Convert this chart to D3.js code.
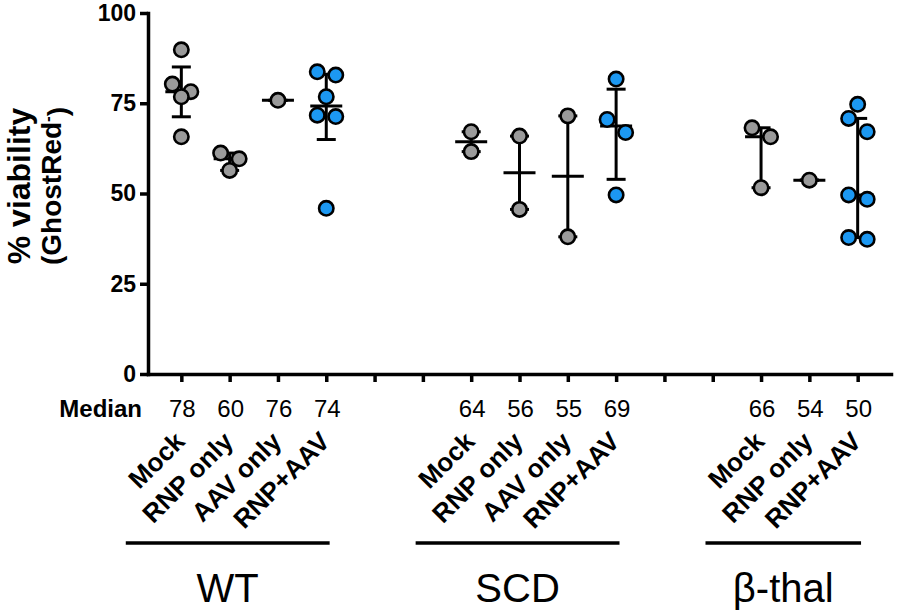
<!DOCTYPE html>
<html>
<head>
<meta charset="utf-8">
<script src="https://cdn.jsdelivr.net/npm/d3@7"></script>
<style>
    body { margin: 0; background: #fff; }
    text { font-family: "Liberation Sans", Arial, Helvetica, sans-serif; }
</style>
</head>
<body>
<div id="chart"></div>
<script>
// slots on the x axis, gaps are empty spacer positions between groups
const slots = [
    "WT|Mock", "WT|RNP only", "WT|AAV only", "WT|RNP+AAV", "gap1", "gap2",
    "SCD|Mock", "SCD|RNP only", "SCD|AAV only", "SCD|RNP+AAV", "gap3", "gap4",
    "β-thal|Mock", "β-thal|RNP only", "β-thal|RNP+AAV"
];
const groups = ["WT", "SCD", "β-thal"];

// % viability per sample
const wtMock = [89.8, 80.3, 78.2, 76.8, 65.7];
const wtRnp = [61.2, 59.6, 56.4];
const wtAav = [75.8];
const wtRnpAav = [83.7, 82.8, 76.8, 71.7, 71.3, 45.9];
const scdMock = [67.1, 61.6];
const scdRnp = [65.9, 45.6];
const scdAav = [71.5, 38.0];
const scdRnpAav = [81.7, 70.5, 66.9, 49.6];
const btMock = [68.2, 65.7, 51.6];
const btRnp = [53.7];
const btRnpAav = [74.7, 70.8, 67.1, 49.6, 48.4, 37.8, 37.3];

const medianLabels = ["78", "60", "76", "74", "64", "56", "55", "69", "66", "54", "50"];
const yTicks = [0, 25, 50, 75, 100];

const series = [
    { key: "WT|Mock", values: wtMock },
    { key: "WT|RNP only", values: wtRnp },
    { key: "WT|AAV only", values: wtAav },
    { key: "WT|RNP+AAV", values: wtRnpAav },
    { key: "SCD|Mock", values: scdMock },
    { key: "SCD|RNP only", values: scdRnp },
    { key: "SCD|AAV only", values: scdAav },
    { key: "SCD|RNP+AAV", values: scdRnpAav },
    { key: "β-thal|Mock", values: btMock },
    { key: "β-thal|RNP only", values: btRnp },
    { key: "β-thal|RNP+AAV", values: btRnpAav }
];

const width = 898, height = 612;
const r = 7.2;

const svg = d3.select("#chart").append("svg")
    .attr("width", width)
    .attr("height", height);

svg.append("rect").attr("width", width).attr("height", height).attr("fill", "#fff");

const x = d3.scalePoint().domain(slots).range([148, 891]).padding(0.69);
const y = d3.scaleLinear().domain([0, 100]).range([374, 13]);

// graphpad style percentile
function percentile(sorted, p) {
    const n = sorted.length;
    let pos = p * (n + 1);
    pos = Math.max(1, Math.min(n, pos));
    const lo = Math.floor(pos), frac = pos - lo;
    if (lo >= n) return sorted[n - 1];
    return sorted[lo - 1] + frac * (sorted[lo] - sorted[lo - 1]);
}

// put close points side by side, two per row
function dodge(values) {
    const sorted = values.slice().sort((a, b) => b - a);
    const out = [];
    let row = [];
    sorted.forEach(v => {
        if (row.length === 1 && Math.abs(y(v) - y(row[0])) < 14) {
            row.push(v);
            out.push({ v: row[0], dx: -9 }, { v: v, dx: 9.5 });
            row = [];
        } else {
            if (row.length === 1) out.push({ v: row[0], dx: 0 });
            row = [v];
        }
    });
    if (row.length === 1) out.push({ v: row[0], dx: 0 });
    return out;
}

// axes
const yAxis = svg.append("g")
    .attr("transform", "translate(148,0)")
    .call(d3.axisLeft(y).tickValues(yTicks).tickSize(8).tickSizeOuter(0).tickPadding(4));

const xAxis = svg.append("g")
    .attr("transform", "translate(0,374)")
    .call(d3.axisBottom(x).tickSize(8).tickSizeOuter(0).tickFormat(""));

[yAxis, xAxis].forEach(g => {
    g.select(".domain").attr("stroke", "#000").attr("stroke-width", 3.5).attr("stroke-linecap", "square");
    g.selectAll(".tick line").attr("stroke", "#000").attr("stroke-width", 3.5);
});
yAxis.selectAll(".tick text")
    .attr("fill", "#000")
    .style("font-size", "23px")
    .style("font-weight", "bold");

// y title
const yTitle = svg.append("g").attr("transform", "translate(0,186)");
yTitle.append("text")
    .attr("transform", "translate(30,0) rotate(-90)")
    .attr("text-anchor", "middle")
    .style("font-size", "32px")
    .style("font-weight", "bold")
    .text("% viability");
const sub = yTitle.append("text")
    .attr("transform", "translate(61,0) rotate(-90)")
    .attr("text-anchor", "middle")
    .style("font-size", "28px")
    .style("font-weight", "bold");
sub.append("tspan").text("(GhostRed");
sub.append("tspan").attr("dy", "-0.5em").style("font-size", "17px").text("-");
sub.append("tspan").attr("dy", "0.5em").text(")");

// median + interquartile bars
const bars = svg.append("g");
series.forEach(s => {
    const sorted = s.values.slice().sort((a, b) => a - b);
    const q1 = percentile(sorted, 0.25), med = d3.median(sorted), q3 = percentile(sorted, 0.75);
    const cx = x(s.key);
    bars.append("line")
        .attr("x1", cx).attr("x2", cx)
        .attr("y1", y(q1)).attr("y2", y(q3));
    [q1, q3].forEach(q => {
        bars.append("line")
            .attr("x1", cx - 9.5).attr("x2", cx + 9.5)
            .attr("y1", y(q)).attr("y2", y(q));
    });
    bars.append("line")
        .attr("x1", cx - 16).attr("x2", cx + 16)
        .attr("y1", y(med)).attr("y2", y(med));
});
bars.selectAll("line").attr("stroke", "#000").attr("stroke-width", 3);

// points
const pts = svg.append("g");
series.forEach(s => {
    const blue = s.key.endsWith("RNP+AAV");
    pts.selectAll(null)
        .data(dodge(s.values))
        .enter().append("circle")
        .attr("cx", d => x(s.key) + d.dx)
        .attr("cy", d => y(d.v))
        .attr("r", r)
        .attr("fill", blue ? "#1c98f2" : "#9a9a9a")
        .attr("stroke", "#000")
        .attr("stroke-width", 2.6);
});

// median row
svg.append("text")
    .attr("x", 142).attr("y", 417)
    .attr("text-anchor", "end")
    .style("font-size", "24px")
    .style("font-weight", "bold")
    .text("Median");

svg.append("g").selectAll("text")
    .data(series)
    .enter().append("text")
    .attr("x", d => x(d.key) + 1)
    .attr("y", 417)
    .attr("text-anchor", "middle")
    .style("font-size", "24px")
    .text((d, i) => medianLabels[i]);

// condition labels
svg.append("g").selectAll("text")
    .data(series)
    .enter().append("text")
    .attr("transform", d => `translate(${x(d.key) + 5},443) rotate(-45)`)
    .attr("text-anchor", "end")
    .style("font-size", "26px")
    .style("font-weight", "bold")
    .text(d => d.key.split("|")[1]);

// group brackets
const step = x.step();
groups.forEach(g => {
    const keys = slots.filter(k => k.startsWith(g + "|"));
    const x0 = x(keys[0]) - 1.15 * step;
    const x1 = x(keys[keys.length - 1]) + 0.07 * step;
    svg.append("line")
        .attr("x1", x0).attr("x2", x1)
        .attr("y1", 543).attr("y2", 543)
        .attr("stroke", "#000")
        .attr("stroke-width", 3.5);
    svg.append("text")
        .attr("x", (x0 + x1) / 2)
        .attr("y", 602)
        .attr("text-anchor", "middle")
        .style("font-size", "40px")
        .text(g);
});
</script>
</body>
</html>
